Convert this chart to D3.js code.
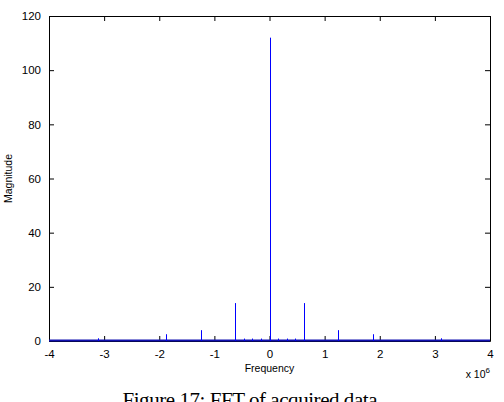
<!DOCTYPE html>
<html>
<head>
<meta charset="utf-8">
<script src="https://cdn.jsdelivr.net/npm/d3@7"></script>
<style>
  body { margin: 0; background: #fff; }
  svg { display: block; }
  .tick text { font-family: "Liberation Sans", Arial, sans-serif; font-size: 11.5px; fill: #000; }
</style>
</head>
<body>
<div id="chart"></div>
<script>
// FFT spikes (frequency in units of 1e6 Hz, magnitude)
const spikeFreq = [-3.12, -1.875, -1.25, -0.625, -0.467, -0.31, -0.155, 0, 0.155, 0.31, 0.467, 0.625, 1.25, 1.875, 3.12];
const spikeMag  = [1, 2.5, 4, 14, 0.9, 0.9, 0.9, 112, 0.9, 0.9, 0.9, 14, 4, 2.5, 1];
const xTicks = [-4, -3, -2, -1, 0, 1, 2, 3, 4];
const yTicks = [0, 20, 40, 60, 80, 100, 120];

const W = 504, H = 402;
const margin = { top: 16, right: 14, bottom: 61, left: 49 };
const w = W - margin.left - margin.right;
const h = H - margin.top - margin.bottom;

const svg = d3.select('#chart').append('svg')
    .attr('width', W)
    .attr('height', H);

const g = svg.append('g')
    .attr('transform', `translate(${margin.left},${margin.top})`);

const x = d3.scaleLinear().domain([-4, 4]).range([0, w]);
const y = d3.scaleLinear().domain([0, 120]).range([h, 0]);

// axes (MATLAB style: ticks inside, box all round)
const tickLen = 5;
const plain = d => String(d);
g.append('g')
    .attr('transform', `translate(0,${h})`)
    .call(d3.axisBottom(x).tickValues(xTicks).tickFormat(plain).tickSizeInner(-tickLen).tickSizeOuter(0).tickPadding(tickLen + 4))
    .call(a => a.select('.domain').attr('stroke', '#000'));
g.append('g')
    .call(d3.axisTop(x).tickValues(xTicks).tickSizeInner(-tickLen).tickSizeOuter(0).tickFormat(''))
    .call(a => a.select('.domain').attr('stroke', '#000'));
g.append('g')
    .call(d3.axisLeft(y).tickValues(yTicks).tickFormat(plain).tickSizeInner(-tickLen).tickSizeOuter(0).tickPadding(tickLen + 3))
    .call(a => a.select('.domain').attr('stroke', '#000'));
g.append('g')
    .attr('transform', `translate(${w},0)`)
    .call(d3.axisRight(y).tickValues(yTicks).tickSizeInner(-tickLen).tickSizeOuter(0).tickFormat(''))
    .call(a => a.select('.domain').attr('stroke', '#000'));

// baseline of the spectrum
g.append('line')
    .attr('x1', x(-4)).attr('x2', x(4))
    .attr('y1', y(0) - 0.5).attr('y2', y(0) - 0.5)
    .attr('stroke', '#1010b0')
    .attr('stroke-width', 2);

// spikes
const spikes = spikeFreq.map((f, i) => ({ f, m: spikeMag[i] }));
g.selectAll('.spike')
    .data(spikes)
    .enter()
    .append('line')
    .attr('class', 'spike')
    .attr('x1', d => Math.round(x(d.f)) + 0.5)
    .attr('x2', d => Math.round(x(d.f)) + 0.5)
    .attr('y1', y(0))
    .attr('y2', d => y(d.m))
    .attr('stroke', '#0000ff')
    .attr('stroke-width', 1);

// labels
svg.append('text')
    .attr('x', margin.left + x(0))
    .attr('y', margin.top + h + 31)
    .attr('text-anchor', 'middle')
    .attr('font-family', '"Liberation Sans", Arial, sans-serif')
    .attr('font-size', '10.5px')
    .text('Frequency');

svg.append('text')
    .attr('transform', `translate(12,${margin.top + h / 2}) rotate(-90)`)
    .attr('text-anchor', 'middle')
    .attr('font-family', '"Liberation Sans", Arial, sans-serif')
    .attr('font-size', '10.5px')
    .text('Magnitude');

const expo = svg.append('text')
    .attr('x', margin.left + w)
    .attr('y', margin.top + h + 37)
    .attr('text-anchor', 'end')
    .attr('font-family', '"Liberation Sans", Arial, sans-serif')
    .attr('font-size', '10.5px');
expo.append('tspan').text('x 10');
expo.append('tspan').attr('dy', -5).attr('font-size', '8px').text('6');

// caption (cut by the bottom edge, as in the source figure)
svg.append('text')
    .attr('x', 250)
    .attr('y', 407)
    .attr('text-anchor', 'middle')
    .attr('font-family', '"Liberation Serif", "DejaVu Serif", serif')
    .attr('font-size', '21px')
    .attr('textLength', 255)
    .text('Figure 17: FFT of acquired data');
</script>
</body>
</html>
